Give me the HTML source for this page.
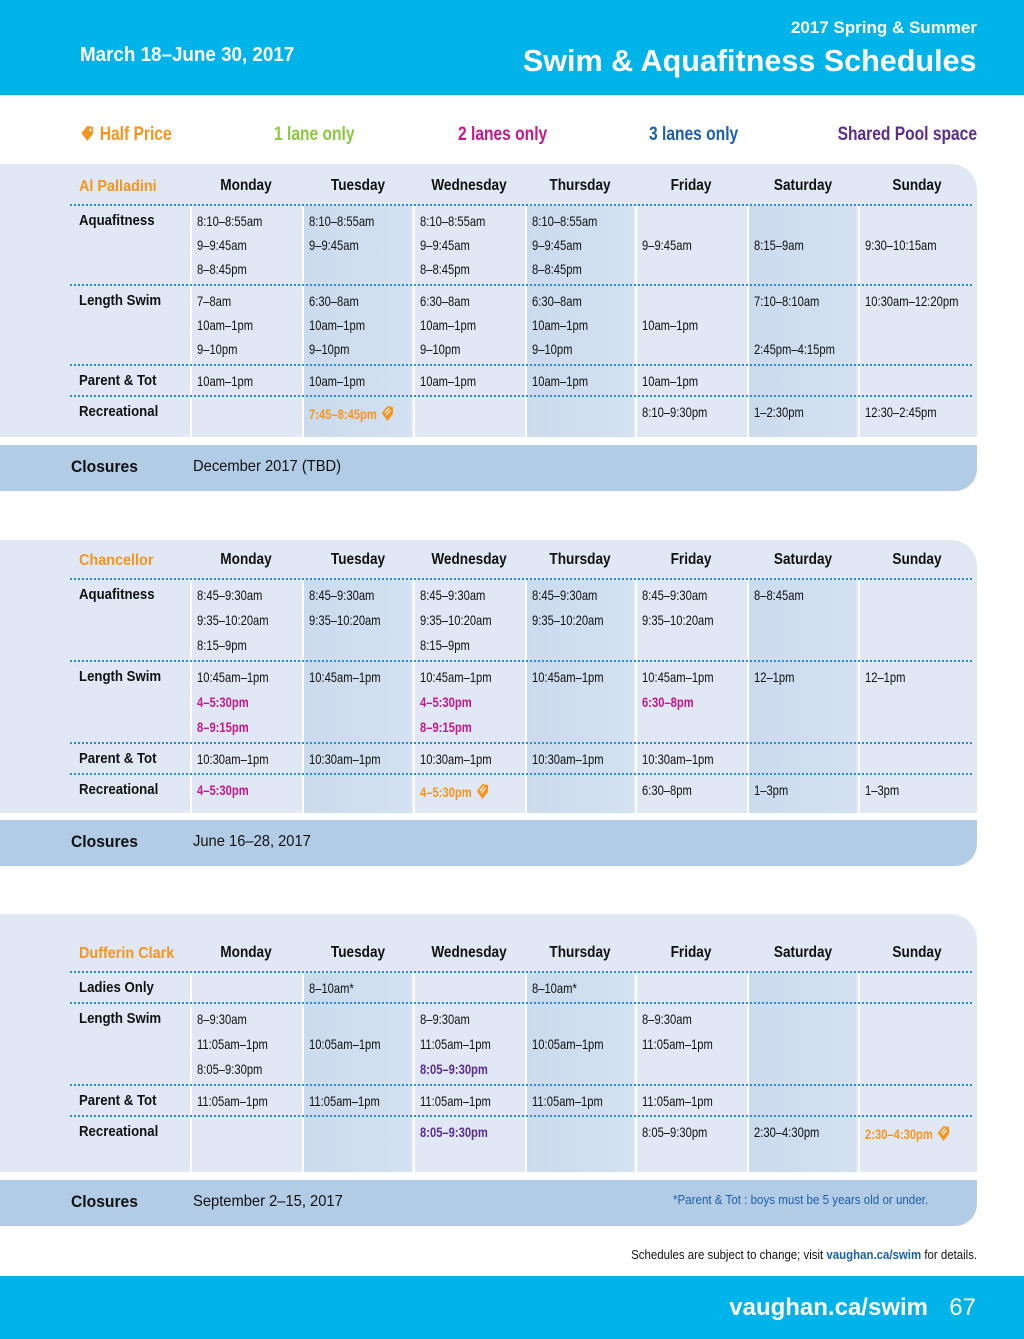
<!DOCTYPE html>
<html><head><meta charset="utf-8">
<style>
*{margin:0;padding:0;box-sizing:border-box}
body{width:1024px;height:1339px;position:relative;background:#fff;font-family:"Liberation Sans",sans-serif;overflow:hidden;color:#111}
.abs{position:absolute;white-space:nowrap}
#hdr{position:absolute;left:0;top:0;width:1024px;height:95px;background:#00b3e8}
#ftr{position:absolute;left:0;top:1276px;width:1024px;height:63px;background:#00b3e8}
.panel{position:absolute;left:0;width:977px;background:#dfe8f4;border-top-right-radius:26px}
.clos{position:absolute;left:0;width:977px;height:46px;background:#b3cce6;border-bottom-right-radius:22px}
.col{position:absolute}
.dot{position:absolute;left:70px;width:902px;height:0;border-top:2px dotted #2a8fd0}
.t{position:absolute;white-space:nowrap;font-size:14px;line-height:16px;transform:translateY(-8px) scaleX(.8);transform-origin:0 50%}
.lbl{font-weight:bold;font-size:15px;transform:translateY(-8px) scaleX(.88)}
.pool{transform:translateY(-8px) scaleX(.9)}
.day{font-weight:bold;font-size:16px;transform:translate(-50%,-9px) scaleX(.85);transform-origin:50% 50%}
.o{color:#f7941d;font-weight:bold}.m{color:#c5168c;font-weight:bold}.g{color:#8dc63f;font-weight:bold}.b{color:#1b5fa8;font-weight:bold}.p{color:#5c2d91;font-weight:bold}
.leg{font-weight:bold;font-size:19px;top:124px;transform:scaleX(.82);transform-origin:0 50%}
</style></head><body>
<div id="hdr">
<div class="abs" style="left:80px;top:44px;color:#fff;font-weight:bold;font-size:20px;transform:scaleX(.94);transform-origin:0 50%">March 18–June 30, 2017</div>
<div class="abs" style="right:47px;top:18px;color:#fff;font-weight:bold;font-size:17px">2017 Spring &amp; Summer</div>
<div class="abs" style="right:47px;top:43px;color:#fff;font-weight:bold;font-size:31px;transform:scaleX(.985);transform-origin:100% 50%">Swim &amp; Aquafitness Schedules</div>
</div>
<div class="abs leg o" style="left:79px"><svg width="20" height="18" viewBox="0 0 18 18" style="vertical-align:-2px"><path d="M2 9 L9 2 L16 3 L16 10 L9 17 Z" fill="#f7941d"/><circle cx="13" cy="6" r="1.5" fill="#fff"/></svg> Half Price</div>
<div class="abs leg g" style="left:274px">1 lane only</div>
<div class="abs leg m" style="left:458px">2 lanes only</div>
<div class="abs leg b" style="left:649px">3 lanes only</div>
<div class="abs leg p" style="right:47px;transform-origin:100% 50%">Shared Pool space</div>
<div id="root"></div>
<div class="abs" style="right:47px;top:1247px;font-size:13px;transform:scaleX(.88);transform-origin:100% 50%">Schedules are subject to change; visit <span style="color:#1b5fa8;font-weight:bold">vaughan.ca/swim</span> for details.</div>
<div id="ftr">
<div class="abs" style="right:96px;top:18px;color:#fff;font-weight:bold;font-size:24px">vaughan.ca/swim</div>
<div class="abs" style="right:48px;top:18px;color:#fff;font-size:24px">67</div>
</div>
<script>
const days=["Monday","Tuesday","Wednesday","Thursday","Friday","Saturday","Sunday"];
const colX=[190,302,413,525,635,747,858,975];
const pools=["Al Palladini","Chancellor","Dufferin Clark"];
const closures=["December 2017 (TBD)","June 16–28, 2017","September 2–15, 2017"];
const rowsAP=[["Aquafitness",3,[["8:10–8:55am","9–9:45am","8–8:45pm"],["8:10–8:55am","9–9:45am"],["8:10–8:55am","9–9:45am","8–8:45pm"],["8:10–8:55am","9–9:45am","8–8:45pm"],["","9–9:45am"],["","8:15–9am"],["","9:30–10:15am"]]],
["Length Swim",3,[["7–8am","10am–1pm","9–10pm"],["6:30–8am","10am–1pm","9–10pm"],["6:30–8am","10am–1pm","9–10pm"],["6:30–8am","10am–1pm","9–10pm"],["","10am–1pm"],["7:10–8:10am","","2:45pm–4:15pm"],["10:30am–12:20pm"]]],
["Parent & Tot",1,[["10am–1pm"],["10am–1pm"],["10am–1pm"],["10am–1pm"],["10am–1pm"],[],[]]],
["Recreational",1,[[],["o:7:45–8:45pm"],[],[],["8:10–9:30pm"],["1–2:30pm"],["12:30–2:45pm"]]]];
const rowsCH=[["Aquafitness",3,[["8:45–9:30am","9:35–10:20am","8:15–9pm"],["8:45–9:30am","9:35–10:20am"],["8:45–9:30am","9:35–10:20am","8:15–9pm"],["8:45–9:30am","9:35–10:20am"],["8:45–9:30am","9:35–10:20am"],["8–8:45am"],[]]],
["Length Swim",3,[["10:45am–1pm","m:4–5:30pm","m:8–9:15pm"],["10:45am–1pm"],["10:45am–1pm","m:4–5:30pm","m:8–9:15pm"],["10:45am–1pm"],["10:45am–1pm","m:6:30–8pm"],["12–1pm"],["12–1pm"]]],
["Parent & Tot",1,[["10:30am–1pm"],["10:30am–1pm"],["10:30am–1pm"],["10:30am–1pm"],["10:30am–1pm"],[],[]]],
["Recreational",1,[["m:4–5:30pm"],[],["o:4–5:30pm"],[],["6:30–8pm"],["1–3pm"],["1–3pm"]]]];
const rowsDC=[["Ladies Only",1,[[],["8–10am*"],[],["8–10am*"],[],[],[]]],
["Length Swim",3,[["8–9:30am","11:05am–1pm","8:05–9:30pm"],["","10:05am–1pm"],["8–9:30am","11:05am–1pm","p:8:05–9:30pm"],["","10:05am–1pm"],["8–9:30am","11:05am–1pm"],[],[]]],
["Parent & Tot",1,[["11:05am–1pm"],["11:05am–1pm"],["11:05am–1pm"],["11:05am–1pm"],["11:05am–1pm"],[],[]]],
["Recreational",1,[[],[],["p:8:05–9:30pm"],[],["8:05–9:30pm"],["2:30–4:30pm"],["o:2:30–4:30pm"]]]];
const allRows=[rowsAP,rowsCH,rowsDC];
const layout=[[164,205,437,445,24],[540,579,813,820,25],[914,972,1172,1180,25]];
const root=document.getElementById('root');
function el(cls,parent){const d=document.createElement('div');d.className=cls;parent.appendChild(d);return d;}
function icon(){return '<svg width="18" height="18" viewBox="0 0 18 18" style="vertical-align:-3px;margin-left:4px"><path d="M2 9 L9 2 L16 3 L16 10 L9 17 Z" fill="#f7941d"/><path d="M6 9 L11 4 M8 11 L13 6" stroke="#fff" stroke-width="1.3"/></svg>';}
pools.forEach((pool,pi)=>{
  const [top,div,bot,ct,ls]=layout[pi];
  const pn=el('panel',root);
  
  
  pn.style.top=top+'px';pn.style.height=(bot-top)+'px';
  for(let c=0;c<7;c++){
    const co=el('col',root);
    
    
    co.style.left=colX[c]+'px';co.style.width=(colX[c+1]-colX[c]-(c<6?2:0))+'px';
    co.style.top=(div+1)+'px';co.style.height=(bot-div-1)+'px';
    co.style.background=(c%2==1)?'linear-gradient(90deg,#cbdbee,#d3e1f1)':'#dfe8f4';
    co.style.borderLeft='2px solid #fff';
  }
  const pt=el('t lbl pool o',root);
  
  
  pt.textContent=pool;pt.style.left='79px';pt.style.top=(div-18)+'px';pt.style.fontSize='16px';
  days.forEach((d,c)=>{
    const t=el('t day',root);
    
    
    t.textContent=d;t.style.left=((colX[c]+colX[c+1])/2)+'px';t.style.top=(div-18)+'px';
  });
  let y=div;
  allRows[pi].forEach((r,ri)=>{
    const dl=el('dot',root);
    
    
    dl.style.top=(y-1)+'px';
    const l=el('t lbl',root);
    
    
    l.textContent=r[0];l.style.left='79px';l.style.top=(y+16)+'px';
    r[2].forEach((cell,c)=>{
      cell.forEach((line,li)=>{
        if(!line)return;
        const t=el('t',root);
        
        
        let txt=line,cls='';
        const m=line.match(/^([ompgb]):(.*)$/);
        if(m){cls=m[1];txt=m[2];t.classList.add(cls);}
        t.textContent=txt;
        if(cls==='o')t.innerHTML+=icon();
        t.style.left=(colX[c]+7)+'px';t.style.top=(y+16+li*ls)+'px';
      });
    });
    y+= r[1]>1 ? 32+(r[1]-1)*ls : 31;
  });
  const cb=el('clos',root);
  
  
  cb.style.top=ct+'px';
  const ch=el('t lbl',root);
  
  
  ch.textContent='Closures';ch.style.left='71px';ch.style.top=(ct+22)+'px';ch.style.fontSize='17px';ch.style.transform='translateY(-8px) scaleX(.92)';
  const cd=el('t',root);
  
  
  cd.textContent=closures[pi];cd.style.left='193px';cd.style.top=(ct+22)+'px';cd.style.fontSize='16px';cd.style.transform='translateY(-8px) scaleX(.92)';
});
const fn=el('t',root);


fn.textContent='*Parent & Tot : boys must be 5 years old or under.';
fn.style.left='673px';fn.style.top='1200px';fn.style.fontSize='13px';fn.style.color='#1b5fa8';fn.style.transform='translateY(-8px) scaleX(.89)';
</script>
</body></html>
